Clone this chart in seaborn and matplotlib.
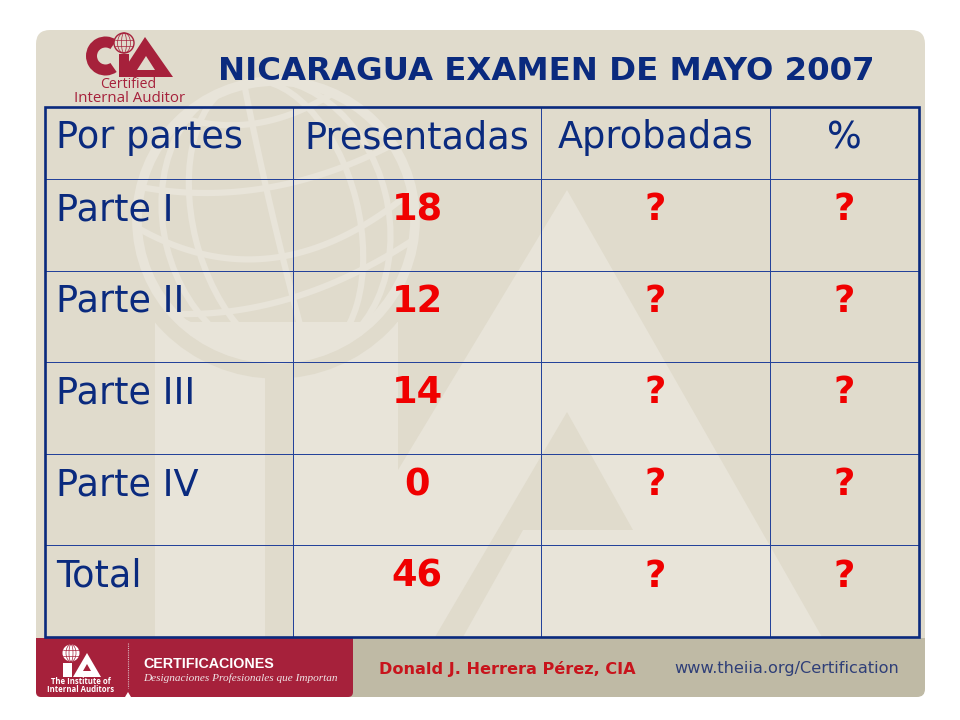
import numpy as np
import pandas as pd
import seaborn as sns
import matplotlib.pyplot as plt
from matplotlib.colors import ListedColormap
from matplotlib.patches import Circle, Ellipse, FancyBboxPatch, Polygon, Rectangle, Wedge

titulo = "NICARAGUA EXAMEN DE MAYO 2007"
columnas = ["Por partes", "Presentadas", "Aprobadas", "%"]
partes = ["Parte I", "Parte II", "Parte III", "Parte IV", "Total"]
presentadas = ["18", "12", "14", "0", "46"]
aprobadas = ["?", "?", "?", "?", "?"]
porcentaje = ["?", "?", "?", "?", "?"]

df = pd.DataFrame({columnas[0]: partes, columnas[1]: presentadas,
                   columnas[2]: aprobadas, columnas[3]: porcentaje})

navy = "#0A2A7E"
red_txt = "#F00000"
bordo = "#A6213B"
dark = "#E0DBCC"
light = "#E8E4D9"
tan = "#BFBAA5"

sns.set_theme(style="white")
plt.rcParams["font.family"] = ["DejaVu Sans"]

fig = plt.figure(figsize=(9.6, 7.2), dpi=100, facecolor="white")

# fondo de la diapositiva, en pixeles
bg = fig.add_axes([0, 0, 1, 1])
bg.set_xlim(0, 960)
bg.set_ylim(720, 0)
bg.axis("off")

panel = FancyBboxPatch((36, 30), 889, 667, boxstyle="round,pad=0,rounding_size=14", fc=dark, ec="none")
bg.add_patch(panel)

# marca de agua
bg.add_patch(Rectangle((155, 322), 243, 42, fc=light, ec="none"))
bg.add_patch(Rectangle((155, 322), 110, 318, fc=light, ec="none"))
bg.add_patch(Rectangle((293, 322), 105, 318, fc=light, ec="none"))
bg.add_patch(Polygon([(567, 190), (822, 637), (398, 637), (398, 470)], fc=light, ec="none"))
bg.add_patch(Polygon([(567, 412), (633, 530), (523, 530), (463, 637), (435, 637)], fc=dark, ec="none"))
bg.add_patch(Circle((276, 220), 151, fc="none", ec=dark, lw=11))
bg.add_patch(Circle((276, 220), 139, fc="none", ec=light, lw=7))
globo = Circle((276, 220), 143, transform=bg.transData)
for w in [165, 225]:
    e = Ellipse((276, 220), w, 286, angle=-14, fc="none", ec=light, lw=4.5)
    bg.add_patch(e)
    e.set_clip_path(globo)
ys_mer = np.linspace(75, 365, 60)
lin, = bg.plot(np.polyval(np.polyfit([113, 213, 347], [250, 272, 306], 2), ys_mer), ys_mer, color=light, lw=4.5)
lin.set_clip_path(globo)
paralelos = [([190, 240, 330], [120, 125, 95]),
             ([140, 207, 360], [187, 193, 160]),
             ([155, 207, 383], [237, 255, 213]),
             ([213, 307, 413], [313, 293, 240]),
             ([240, 300, 345], [343, 346, 335])]
xs_par = np.linspace(130, 420, 80)
for px, py in paralelos:
    lin, = bg.plot(xs_par, np.polyval(np.polyfit(px, py, 2), xs_par), color=light, lw=4.5)
    lin.set_clip_path(globo)

# pie de pagina
bg.add_patch(FancyBboxPatch((36, 638), 889, 59, boxstyle="round,pad=0,rounding_size=8", fc=tan, ec="none"))
bg.add_patch(Rectangle((36, 638), 20, 20, fc=bordo, ec="none"))
bg.add_patch(Rectangle((905, 638), 20, 20, fc=tan, ec="none"))
bg.add_patch(FancyBboxPatch((36, 638), 317, 59, boxstyle="round,pad=0,rounding_size=5", fc=bordo, ec="none"))
bg.add_patch(Rectangle((36, 638), 317, 20, fc=bordo, ec="none"))
bg.add_patch(Polygon([(125, 697), (128, 692), (131, 697)], fc="white", ec="none"))
bg.plot([128, 128], [643, 688], color="#D9B5BC", lw=0.8, ls=(0, (1, 1)))

# logo IIA
bg.add_patch(Circle((71, 653), 8.5, fc="white", ec="none"))
for w in [4, 10]:
    bg.add_patch(Ellipse((71, 653), w, 17, fc="none", ec=bordo, lw=0.5))
bg.plot([63, 79], [650, 650], color=bordo, lw=0.5)
bg.plot([63, 79], [656, 656], color=bordo, lw=0.5)
bg.add_patch(Rectangle((63, 663), 9, 14, fc="white", ec="none"))
bg.add_patch(Polygon([(87, 653), (101, 677), (73, 677)], fc="white", ec="none"))
bg.add_patch(Polygon([(87, 664), (91, 671), (83, 671)], fc=bordo, ec="none"))
bg.text(81, 682, "The Institute of", color="white", fontsize=5.6, fontweight="bold", ha="center", va="center",
        family="Open Sans")
bg.text(81, 690, "Internal Auditors", color="white", fontsize=5.6, fontweight="bold", ha="center", va="center",
        family="Open Sans")
bg.text(143, 664, "CERTIFICACIONES", color="white", fontsize=10.3, fontweight="bold", ha="left", va="center",
        family="Liberation Sans")
bg.text(143, 678, "Designaciones Profesionales que Importan", color="#F0E4E6", fontsize=8.1, style="italic",
        ha="left", va="center", family="Liberation Serif")
bg.text(379, 669, "Donald J. Herrera Pérez, CIA", color="#C8141C", fontsize=11.6, fontweight="bold", ha="left",
        va="center")
bg.text(674, 668, "www.theiia.org/Certification", color="#2F3F78", fontsize=11.6, ha="left", va="center")

# logo CIA
bg.add_patch(Wedge((105.5, 56), 19.5, 55, 305, width=11, fc=bordo, ec="none"))
bg.add_patch(Rectangle((119, 54), 10, 23, fc=bordo, ec="none"))
bg.add_patch(Polygon([(145, 37), (173, 77), (119, 77)], fc=bordo, ec="none"))
bg.add_patch(Polygon([(146, 56), (155, 70), (137, 70)], fc=dark, ec="none"))
bg.add_patch(Circle((124, 43), 10, fc=dark, ec=bordo, lw=1))
for w in [5, 13]:
    bg.add_patch(Ellipse((124, 43), w, 20, fc="none", ec=bordo, lw=0.5))
bg.plot([115, 133], [40, 40], color=bordo, lw=0.5)
bg.plot([115, 133], [46, 46], color=bordo, lw=0.5)
bg.text(128, 84, "Certified", color=bordo, fontsize=10.2, ha="center", va="center", family="Open Sans")
bg.text(130, 98.5, "Internal Auditor", color=bordo, fontsize=10.8, ha="center", va="center", family="Open Sans")

bg.text(218, 80, titulo, color=navy, fontsize=23.3, fontweight="bold", ha="left", va="baseline")

# tabla: una rejilla de heatmaps para poder tener anchos y altos distintos
gs = fig.add_gridspec(2, 4, left=45 / 960, right=919 / 960, top=1 - 107 / 720, bottom=1 - 637 / 720,
                      width_ratios=[248, 248, 229, 149], height_ratios=[72, 458], wspace=0, hspace=0)
vacio = ListedColormap(["none"])

for j, col in enumerate(columnas):
    for i, textos in enumerate([[col], df[col].tolist()]):
        ax = fig.add_subplot(gs[i, j])
        ax.patch.set_alpha(0)
        sns.heatmap(np.zeros((len(textos), 1)), ax=ax, cmap=vacio, vmin=0, vmax=1, cbar=False, linewidths=0.7,
                    linecolor="#24429A", xticklabels=False, yticklabels=False)
        base = 0.57 if i == 0 else 0.45
        for k, txt in enumerate(textos):
            es_primera = j == 0
            if i == 0 or es_primera:
                ax.text(0.044 if es_primera else 0.5, k + base, txt, color=navy, fontsize=26.4,
                        ha="left" if es_primera else "center", va="baseline")
            else:
                ax.text(0.5, k + base, txt, color=red_txt, fontsize=26.5, fontweight="bold", ha="center", va="baseline")

fig.add_artist(Rectangle((45, 107), 874, 530, fc="none", ec=navy, lw=1.9, transform=bg.transData, zorder=5))

fig.savefig("out.png", dpi=100)
